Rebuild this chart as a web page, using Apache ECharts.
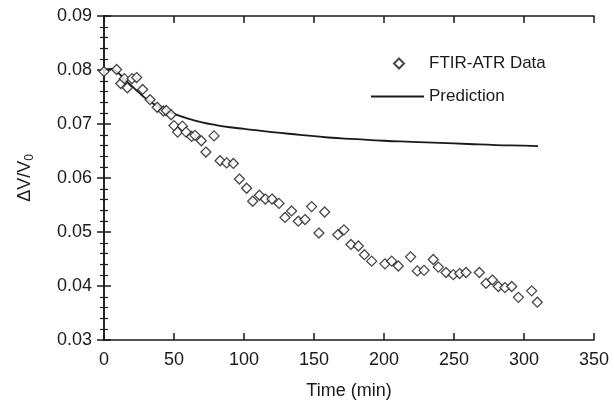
<!DOCTYPE html>
<html>
<head>
<meta charset="utf-8">
<script src="https://cdn.jsdelivr.net/npm/echarts@6/dist/echarts.min.js"></script>
<style>
  html, body { margin: 0; padding: 0; background: #fff; }
  #chart { width: 614px; height: 405px; }
</style>
</head>
<body>
<div id="chart"></div>
<script>
// measured points (FTIR-ATR)
var dataTime = [0, 9, 12, 14.5, 16.7, 20, 23.3, 27.6, 32.9, 38, 42.4, 44.5, 47.9, 50, 52.6, 56, 58.6,
  62.6, 65, 69.5, 72.8, 78.6, 82.9, 87.6, 92.4, 96.7, 101.9, 106.2, 111, 115.2, 120, 125, 129.3,
  134, 138.8, 143.6, 148.3, 153.5, 157.6, 167, 171.4, 176.4, 181.7, 186, 191.2, 200.7, 205.5,
  210.2, 219, 223.8, 228.6, 235.2, 238.8, 244.3, 249.5, 254, 258.6, 268.1, 272.9, 277.4, 281.7,
  286.4, 291.2, 296, 305.5, 309.5];
var dataValue = [0.0797, 0.0801, 0.0775, 0.0784, 0.0767, 0.0784, 0.0786, 0.0764, 0.0745, 0.0731,
  0.0724, 0.0725, 0.0717, 0.0697, 0.0685, 0.0696, 0.0685, 0.0677, 0.0679, 0.0669, 0.0648, 0.0678,
  0.0632, 0.0628, 0.0627, 0.0598, 0.0581, 0.0557, 0.0568, 0.0561, 0.0561, 0.0553, 0.0527, 0.0539,
  0.0520, 0.0523, 0.0547, 0.0498, 0.0537, 0.0495, 0.0504, 0.0477, 0.0474, 0.0458, 0.0446, 0.0441,
  0.0446, 0.0437, 0.0454, 0.0428, 0.0429, 0.0449, 0.0435, 0.0425, 0.0421, 0.0423, 0.0425, 0.0425,
  0.0405, 0.0411, 0.0399, 0.0397, 0.0399, 0.0379, 0.0391, 0.0370];

// model curve
var predTime = [0, 5, 10, 15, 20, 25, 30, 40, 50, 60, 70, 80, 90, 100, 120, 140, 160, 180, 200,
  220, 240, 260, 280, 300, 310];
var predValue = [0.0800, 0.0802, 0.0795, 0.0782, 0.0770, 0.0758, 0.0747, 0.0730, 0.0719, 0.0710,
  0.0703, 0.0698, 0.0694, 0.0691, 0.0685, 0.0680, 0.0675, 0.0672, 0.0669, 0.0667, 0.0665, 0.0663,
  0.0661, 0.0660, 0.0659];

var xTicks = [0, 50, 100, 150, 200, 250, 300, 350];
var yTicks = ['0.03', '0.04', '0.05', '0.06', '0.07', '0.08', '0.09'];

var chart = echarts.init(document.getElementById('chart'));
var font = 'Liberation Sans, Arial, sans-serif';
var ink = '#1a1a1a';

var scatterData = dataTime.map(function (t, i) { return [t, dataValue[i]]; });
var lineData = predTime.map(function (t, i) { return [t, predValue[i]]; });

var frameLine = { lineStyle: { color: ink, width: 1.5 } };
var tick = { inside: true, length: 7, lineStyle: { color: ink, width: 1.5 } };
var minor = { show: true, splitNumber: 5, length: 4, lineStyle: { color: ink, width: 1.2 } };
var legendText = { fontFamily: font, fontSize: 17, color: ink };

var option = {
  animation: false,
  grid: { left: 104, right: 20, top: 16, bottom: 62 },
  legend: [{
    // diamond marker, text aligned with the line entry below
    left: 388,
    top: 50,
    itemWidth: 10,
    itemHeight: 10,
    icon: 'diamond',
    textStyle: Object.assign({ padding: [0, 0, 0, 20] }, legendText),
    data: ['FTIR-ATR Data']
  }, {
    left: 366,
    top: 83,
    itemWidth: 53,
    itemHeight: 2,
    symbolKeepAspect: false,
    icon: 'path://M0,0 L100,0 L100,4 L0,4 Z',
    textStyle: legendText,
    data: ['Prediction']
  }],
  xAxis: [{
    type: 'value',
    min: xTicks[0],
    max: xTicks[xTicks.length - 1],
    interval: 50,
    name: 'Time (min)',
    nameLocation: 'middle',
    nameGap: 42,
    nameTextStyle: { fontFamily: font, fontSize: 18, color: ink },
    axisLine: frameLine,
    axisTick: tick,
    axisLabel: { fontFamily: font, fontSize: 18, color: ink, margin: 11 },
    splitLine: { show: false }
  }, {
    type: 'value',
    position: 'top',
    min: xTicks[0],
    max: xTicks[xTicks.length - 1],
    interval: 50,
    axisLine: frameLine,
    axisTick: tick,
    axisLabel: { show: false },
    splitLine: { show: false }
  }],
  yAxis: [{
    type: 'value',
    min: 0.03,
    max: 0.09,
    interval: 0.01,
    name: '{a|ΔV/V}{s|0}',
    nameLocation: 'middle',
    nameGap: 68,
    nameTextStyle: {
      fontFamily: font, color: ink,
      rich: {
        a: { fontFamily: font, fontSize: 18, color: ink },
        s: { fontFamily: font, fontSize: 12, color: ink, padding: [10, 0, 0, 0] }
      }
    },
    axisLine: frameLine,
    axisTick: tick,
    minorTick: minor,
    axisLabel: {
      fontFamily: font, fontSize: 18, color: ink, margin: 12,
      formatter: function (v) { return yTicks[Math.round((v - 0.03) / 0.01)]; }
    },
    splitLine: { show: false }
  }, {
    type: 'value',
    position: 'right',
    min: 0.03,
    max: 0.09,
    interval: 0.01,
    axisLine: frameLine,
    axisTick: tick,
    minorTick: minor,
    axisLabel: { show: false },
    splitLine: { show: false }
  }],
  series: [{
    name: 'FTIR-ATR Data',
    type: 'scatter',
    symbol: 'diamond',
    symbolSize: 10,
    itemStyle: { color: '#fff', borderColor: ink, borderWidth: 1.3 },
    data: scatterData,
    z: 3
  }, {
    name: 'Prediction',
    type: 'line',
    smooth: true,
    symbol: 'none',
    lineStyle: { color: ink, width: 1.8 },
    itemStyle: { color: ink },
    data: lineData,
    z: 2
  }]
};

chart.setOption(option);
</script>
</body>
</html>
